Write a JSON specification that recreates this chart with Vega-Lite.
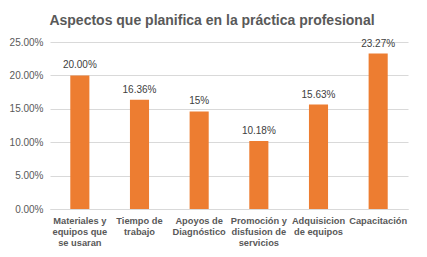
{
  "$schema": "https://vega.github.io/schema/vega-lite/v6.json",
  "width": 358,
  "height": 167,
  "autosize": {"type": "none"},
  "padding": {"left": 50, "top": 42, "right": 19, "bottom": 48},
  "background": "white",
  "title": {
    "text": "Aspectos que planifica en la práctica profesional",
    "anchor": "middle",
    "dx": -17,
    "offset": 9,
    "font": "Liberation Sans",
    "fontSize": 14,
    "fontWeight": "bold",
    "color": "#595959"
  },
  "data": {
    "values": [
      {"cat": "Materiales y|equipos que|se usaran", "value": 0.20, "label": "20.00%"},
      {"cat": "Tiempo de|trabajo", "value": 0.1636, "label": "16.36%"},
      {"cat": "Apoyos de|Diagnóstico", "value": 0.146, "label": "15%"},
      {"cat": "Promoción y|disfusion de|servicios", "value": 0.1018, "label": "10.18%"},
      {"cat": "Adquisicion|de equipos", "value": 0.1563, "label": "15.63%"},
      {"cat": "Capacitación", "value": 0.2327, "label": "23.27%"}
    ]
  },
  "config": {
    "view": {"stroke": null},
    "font": "Liberation Sans"
  },
  "encoding": {
    "x": {
      "field": "cat",
      "type": "nominal",
      "sort": null,
      "scale": {"paddingInner": 0.68, "paddingOuter": 0.34},
      "axis": {
        "title": null,
        "labelAngle": 0,
        "labelExpr": "split(datum.label, '|')",
        "labelFontSize": 9.3,
        "labelFontWeight": "bold",
        "labelColor": "#595959",
        "labelLineHeight": 11,
        "labelPadding": 7,
        "labelLimit": 0,
        "ticks": false,
        "domainColor": "#d9d9d9",
        "grid": false
      }
    },
    "y": {
      "field": "value",
      "type": "quantitative",
      "scale": {"domain": [0, 0.25], "nice": false},
      "axis": {
        "title": null,
        "format": ".2%",
        "values": [0, 0.05, 0.1, 0.15, 0.2, 0.25],
        "labelFontSize": 10,
        "labelColor": "#595959",
        "labelPadding": 7,
        "ticks": false,
        "domain": false,
        "gridColor": "#d9d9d9"
      }
    }
  },
  "layer": [
    {"mark": {"type": "bar", "color": "#ED7D31"}},
    {
      "mark": {"type": "text", "dy": -5, "fontSize": 10, "color": "#404040", "baseline": "bottom"},
      "encoding": {"text": {"field": "label"}}
    }
  ]
}
